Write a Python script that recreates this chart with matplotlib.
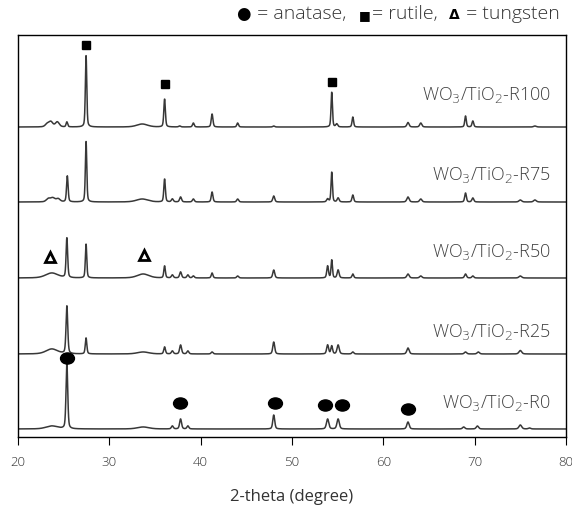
import numpy as np
import matplotlib
matplotlib.use("Agg")
import matplotlib.pyplot as plt
from matplotlib.path import Path
from matplotlib.transforms import Affine2D
from matplotlib.offsetbox import TextArea, HPacker, AnchoredOffsetbox

plt.rcParams['font.family'] = ['Open Sans', 'DejaVu Sans']
plt.rcParams['font.weight'] = 'light'

# peak lists: (2-theta, height, fwhm)
r0_peaks = [(23.7, 3, 1.5), (25.35, 66, 0.22), (33.7, 2, 1.5), (36.9, 3, 0.25),
            (37.8, 10, 0.25), (38.6, 3, 0.25), (48.0, 14, 0.25), (53.9, 10, 0.3),
            (55.05, 10, 0.3), (62.7, 7, 0.3), (68.8, 2, 0.3), (70.3, 3, 0.3),
            (75.0, 4, 0.35), (76.0, 1, 0.3)]
r25_peaks = [(23.7, 5, 1.5), (25.35, 48, 0.22), (27.45, 16, 0.2), (33.7, 2, 1.5),
             (36.05, 7, 0.22), (36.9, 3, 0.25), (37.8, 9, 0.25), (38.6, 3, 0.25),
             (41.25, 2, 0.25), (48.0, 12, 0.25), (53.9, 9, 0.25), (54.35, 8, 0.22),
             (55.05, 9, 0.28), (56.66, 2, 0.25), (62.7, 6, 0.3), (69.0, 2, 0.3),
             (70.4, 2, 0.3), (75.0, 3.5, 0.35)]
r50_peaks = [(23.7, 5, 1.6), (25.35, 40, 0.2), (27.45, 34, 0.18), (33.7, 4, 1.5),
             (36.05, 12, 0.2), (36.9, 3, 0.25), (37.8, 6, 0.25), (38.6, 3, 0.25),
             (39.2, 2, 0.25), (41.25, 5, 0.22), (44.05, 2, 0.25), (48.0, 8, 0.25),
             (53.9, 12, 0.22), (54.35, 18, 0.18), (55.05, 8, 0.25), (56.66, 4, 0.22),
             (62.7, 4, 0.3), (64.1, 2, 0.3), (69.0, 4, 0.25), (69.8, 2, 0.25),
             (75.0, 2, 0.35)]
r75_peaks = [(23.3, 3, 0.5), (23.8, 4, 0.6), (24.4, 3, 0.5), (25.4, 26, 0.2),
             (27.45, 61, 0.18), (33.6, 3, 1.5), (36.05, 23, 0.2), (36.9, 3, 0.25),
             (37.8, 5, 0.25), (39.2, 3, 0.25), (41.25, 10, 0.22), (44.05, 3, 0.25),
             (48.0, 6, 0.25), (53.9, 3, 0.25), (54.35, 30, 0.18), (55.05, 4, 0.25),
             (56.66, 7, 0.22), (62.7, 5, 0.3), (64.1, 3, 0.3), (69.0, 9, 0.22),
             (69.8, 4, 0.25), (75.0, 2, 0.35), (76.6, 2, 0.35)]
r100_peaks = [(23.2, 3, 0.5), (23.6, 5, 0.5), (24.3, 5, 0.5), (25.35, 5, 0.2),
              (27.45, 72, 0.18), (33.6, 3, 1.4), (36.05, 28, 0.2), (37.7, 1, 0.25),
              (39.2, 4, 0.22), (41.25, 13, 0.22), (44.05, 4, 0.22), (48.0, 1, 0.25),
              (54.35, 35, 0.18), (54.9, 3, 0.25), (56.66, 10, 0.2), (62.7, 4.5, 0.28),
              (64.1, 4, 0.28), (69.0, 11, 0.2), (69.8, 6, 0.22), (76.6, 1, 0.35)]

samples = ["R0", "R25", "R50", "R75", "R100"]
offsets = [8, 83, 159, 235, 310]
label_y = [34, 105, 185, 262, 342]

anatase_x = [25.35, 37.7, 48.1, 53.6, 55.5, 62.7]
anatase_y = [79, 34, 34, 32, 32, 28]
rutile_x = [27.45, 36.05, 54.35]
rutile_y = [392, 353, 355]
tungsten_x = [23.5, 33.8]
tungsten_y = [180, 182]

tt = np.arange(20, 80.001, 0.02)


def pattern(peaks):
    y = np.zeros_like(tt)
    for c, h, w in peaks:
        g = np.exp(-4 * np.log(2) * ((tt - c) / w) ** 2)
        l = 1 / (1 + 4 * ((tt - c) / w) ** 2)
        y += h * (0.6 * g + 0.4 * l)
    return y


ellipse = Path.unit_circle().transformed(Affine2D().scale(1.25, 1.0))

fig = plt.figure(figsize=(5.72, 5.15), dpi=100)
ax = fig.add_axes([0.0315, 0.1515, 0.958, 0.7805])

all_peaks = [r0_peaks, r25_peaks, r50_peaks, r75_peaks, r100_peaks]
for name, pk, off, ly in zip(samples, all_peaks, offsets, label_y):
    ax.plot(tt, pattern(pk) + off, color='#383838', lw=1.1)
    ax.text(78.3, ly, "WO$_3$/TiO$_2$-" + name, ha='right', va='center',
            fontsize=13, color='#404040')

ax.plot(anatase_x, anatase_y, marker=ellipse, color='black', ms=10, ls='none')
ax.plot(rutile_x, rutile_y, 's', color='black', ms=5.5, ls='none')
ax.plot(tungsten_x, tungsten_y, '^', mfc='white', mec='black', mew=2.0, ms=6.5, ls='none')

ax.set_xlim(20, 80)
ax.set_ylim(0, 402)
ax.set_yticks([])
ax.set_xticks(range(20, 81, 10))
ax.tick_params(axis='x', direction='out', length=6, pad=8, labelsize=9.5,
               labelcolor='#333333')
for s in ax.spines.values():
    s.set_linewidth(1.0)
ax.set_xlabel("2-theta (degree)", fontsize=12, color='#333333', labelpad=14)

# key line at the top right
sym = dict(family='DejaVu Sans', weight='normal', fontsize=12, color='black')
sym_b = dict(family='DejaVu Sans', weight='bold', fontsize=10, color='black')
txt = dict(family='Open Sans', weight='light', fontsize=14, color='#333333')
parts = [TextArea("\u25CF", textprops=sym), TextArea(" = anatase,  ", textprops=txt),
         TextArea("\u25A0", textprops=dict(sym, fontsize=9)), TextArea("= rutile,  ", textprops=txt),
         TextArea("\u0394", textprops=sym_b), TextArea(" = tungsten", textprops=txt)]
key = HPacker(children=parts, align='baseline', pad=0, sep=1)
ab = AnchoredOffsetbox(loc='upper right', child=key, frameon=False, pad=0,
                       bbox_to_anchor=(0.979, 0.99), bbox_transform=fig.transFigure,
                       borderpad=0)
fig.add_artist(ab)

fig.savefig("out.png", dpi=100)
